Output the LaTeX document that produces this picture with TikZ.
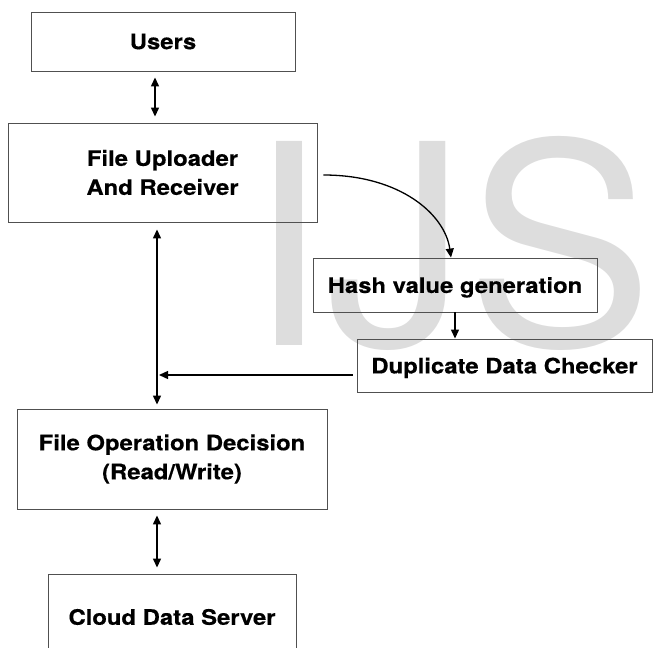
\documentclass[tikz,border=0pt]{standalone}
\usepackage{fontspec}
\setmainfont{TeX Gyre Heros}[FakeStretch=1.12,BoldFeatures={FakeBold=0.4}]
\newfontfamily\wmfont{TeX Gyre Heros}
\usetikzlibrary{arrows.meta}
\definecolor{wmgray}{RGB}{221,221,221}
\definecolor{boxline}{RGB}{80,80,80}
\begin{document}
\begin{tikzpicture}[x=1pt,y=-1pt,
  box/.style={draw=boxline, line width=0.9pt, inner sep=0pt, align=center,
    font=\fontsize{21.3}{29}\selectfont\bfseries},
  tip/.tip={Triangle[length=9pt,width=8pt]},
  arr/.style={-tip, line width=1.3pt},
  dbl/.style={tip-tip, line width=1.3pt}]
\useasboundingbox (0,0) rectangle (654,648);
% watermark
\node[anchor=base west, inner sep=0pt, text=wmgray] (wm) at (248,345)
  {\wmfont\fontsize{280}{280}\selectfont IJS};
% boxes
\node[box, minimum width=264pt, minimum height=59pt] (users) at (163,41.5) {Users};
\node[box, minimum width=309pt, minimum height=99pt] (up) at (162.5,172.5) {File Uploader\\And Receiver};
\node[box, minimum width=284pt, minimum height=54pt, text depth=0pt] (hash) at (455,285) {Hash value generation};
\node[box, minimum width=295pt, minimum height=53pt, text depth=0pt] (dup) at (504.5,365.5) {Duplicate Data Checker};
\node[box, minimum width=310pt, minimum height=100pt] (op) at (172,459) {File Operation Decision\\(Read/Write)};
\node[box, minimum width=248pt, minimum height=86pt] (cloud) at (172,617) {Cloud Data Server};
% connectors
\coordinate (ua) at ([xshift=-8pt]users.south);
\draw[dbl, shorten <=6pt, shorten >=6pt] (ua) -- (ua |- up.north);
\coordinate (vt) at ([xshift=-5.5pt]up.south);
\draw[dbl, shorten <=7pt, shorten >=4pt] (vt) -- (vt |- op.north);
\coordinate (hl) at ([yshift=-9.5pt]dup.west);
\draw[arr, shorten <=4pt, shorten >=2pt] (hl) -- (hl -| vt);
\draw[arr] (hash.south) -- (hash.south |- dup.north);
\coordinate (ot) at ([xshift=-15pt]op.south);
\draw[dbl, shorten <=6pt, shorten >=6pt] (ot) -- (ot |- cloud.north);
\coordinate (cs) at ([xshift=6pt,yshift=-2.5pt]up.east);
\coordinate (ce) at ([xshift=-4pt]hash.north);
\draw[arr] (cs) .. controls +(77,0) and +(-6,-43) .. (ce);
\end{tikzpicture}
\end{document}
